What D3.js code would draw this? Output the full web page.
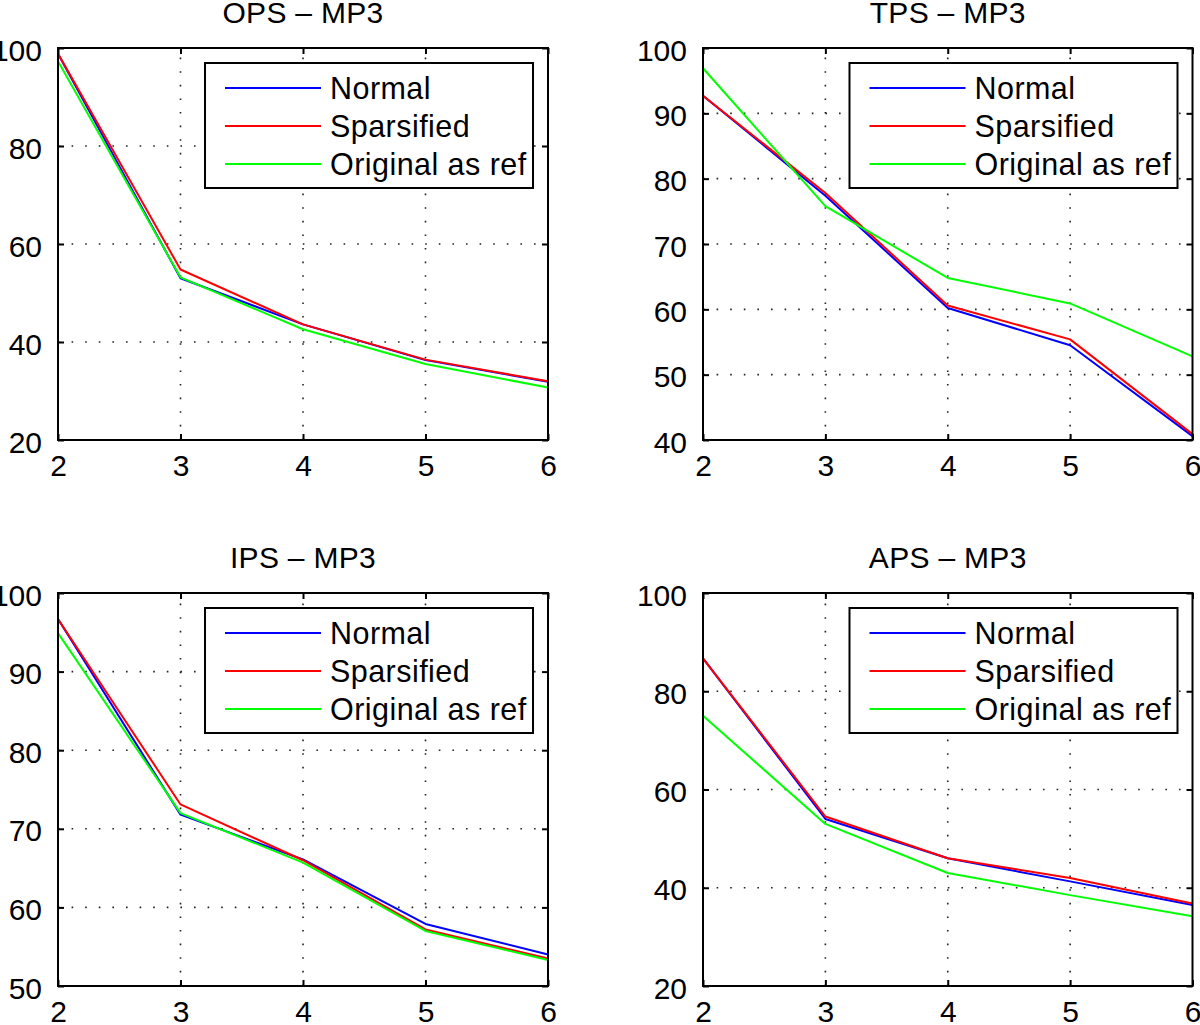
<!DOCTYPE html>
<html>
<head>
<meta charset="utf-8">
<script src="https://cdn.jsdelivr.net/npm/d3@7"></script>
<style>
  html, body { margin: 0; padding: 0; background: #fff; }
  svg { display: block; }
  text { font-family: "Liberation Sans", Arial, Helvetica, sans-serif; fill: #000; }
</style>
</head>
<body>
<div id="chart"></div>
<script>
// ---------- data ----------
const xValues = [2, 3, 4, 5, 6];
const xTickLabels = [2, 3, 4, 5, 6];
const seriesNames = ["Normal", "Sparsified", "Original as ref"];

const panelTitles = ["OPS \u2013 MP3", "TPS \u2013 MP3", "IPS \u2013 MP3", "APS \u2013 MP3"];

const opsNormal      = [98.8, 53.0, 43.6, 36.3, 31.9];
const opsSparsified  = [98.9, 54.8, 43.6, 36.4, 32.0];
const opsOriginal    = [97.3, 53.2, 42.6, 35.5, 30.7];

const tpsNormal      = [92.7, 77.4, 60.2, 54.5, 40.6];
const tpsSparsified  = [92.7, 77.8, 60.6, 55.4, 40.9];
const tpsOriginal    = [96.9, 75.8, 64.8, 60.9, 52.8];

const ipsNormal      = [96.7, 71.8, 66.1, 57.9, 54.0];
const ipsSparsified  = [96.7, 73.1, 66.0, 57.2, 53.5];
const ipsOriginal    = [94.9, 72.0, 65.7, 57.0, 53.3];

const apsNormal      = [86.7, 54.0, 46.0, 41.3, 36.5];
const apsSparsified  = [86.7, 54.5, 46.0, 42.0, 36.8];
const apsOriginal    = [75.0, 53.0, 43.0, 38.5, 34.2];

const opsTicks = [20, 40, 60, 80, 100];
const tpsTicks = [40, 50, 60, 70, 80, 90, 100];
const ipsTicks = [50, 60, 70, 80, 90, 100];
const apsTicks = [20, 40, 60, 80, 100];

// ---------- styles ----------
const seriesColors = ["#0000ff", "#ff0000", "#00ff00"];
const FONT = 30;
const LEGEND_FONT = 30.5;

const W = 1200, H = 1025;
const svg = d3.select("#chart").append("svg").attr("width", W).attr("height", H);

const panels = [
  { title: panelTitles[0], ticks: opsTicks, series: [opsNormal, opsSparsified, opsOriginal], box: [58, 48, 548, 440] },
  { title: panelTitles[1], ticks: tpsTicks, series: [tpsNormal, tpsSparsified, tpsOriginal], box: [703, 48, 1192.5, 440] },
  { title: panelTitles[2], ticks: ipsTicks, series: [ipsNormal, ipsSparsified, ipsOriginal], box: [58, 593, 548, 986] },
  { title: panelTitles[3], ticks: apsTicks, series: [apsNormal, apsSparsified, apsOriginal], box: [703, 593, 1192.5, 986] }
];

panels.forEach(p => {
  const [x0, y0, x1, y1] = p.box;
  const x = d3.scaleLinear().domain([d3.min(xValues), d3.max(xValues)]).range([x0, x1]);
  const y = d3.scaleLinear().domain([d3.min(p.ticks), d3.max(p.ticks)]).range([y1, y0]);
  const g = svg.append("g");

  // grid
  const grid = g.append("g").attr("stroke", "#222").attr("stroke-width", 1.6).attr("stroke-dasharray", "1.6,12");
  xTickLabels.slice(1, -1).forEach(v => {
    grid.append("line").attr("x1", x(v)).attr("x2", x(v)).attr("y1", y1).attr("y2", y0);
  });
  p.ticks.slice(1, -1).forEach(v => {
    grid.append("line").attr("x1", x0).attr("x2", x1).attr("y1", y(v)).attr("y2", y(v));
  });

  // lines
  const line = d3.line().x((d, i) => x(xValues[i])).y(d => y(d));
  p.series.forEach((s, i) => {
    g.append("path").datum(s).attr("d", line).attr("fill", "none")
      .attr("stroke", seriesColors[i]).attr("stroke-width", 2).attr("stroke-linejoin", "round");
  });

  // axes with inward ticks on all four sides
  const tl = 6;
  const axB = d3.axisBottom(x).tickValues(xTickLabels).tickSizeInner(-tl).tickSizeOuter(0).tickPadding(14).tickFormat(d3.format("d"));
  const axT = d3.axisTop(x).tickValues(xTickLabels).tickSizeInner(-tl).tickSizeOuter(0).tickFormat("");
  const axL = d3.axisLeft(y).tickValues(p.ticks).tickSizeInner(-tl).tickSizeOuter(0).tickPadding(16).tickFormat(d3.format("d"));
  const axR = d3.axisRight(y).tickValues(p.ticks).tickSizeInner(-tl).tickSizeOuter(0).tickFormat("");

  const styleAxis = sel => {
    sel.select(".domain").remove();
    sel.selectAll(".tick line").attr("stroke", "#000").attr("stroke-width", 2);
    sel.selectAll(".tick text").attr("font-size", FONT).attr("fill", "#000")
      .style("font-family", '"Liberation Sans", Arial, Helvetica, sans-serif');
  };
  g.append("g").attr("transform", `translate(0,${y1})`).call(axB).call(styleAxis)
    .selectAll(".tick text").attr("dy", "0.72em");
  g.append("g").attr("transform", `translate(0,${y0})`).call(axT).call(styleAxis);
  g.append("g").attr("transform", `translate(${x0},0)`).call(axL).call(styleAxis)
    .selectAll(".tick text").attr("dy", "0.40em");
  g.append("g").attr("transform", `translate(${x1},0)`).call(axR).call(styleAxis);

  // box
  g.append("rect").attr("x", x0).attr("y", y0).attr("width", x1 - x0).attr("height", y1 - y0)
    .attr("fill", "none").attr("stroke", "#000").attr("stroke-width", 2);

  // title
  g.append("text").attr("x", (x0 + x1) / 2).attr("y", y0 - 25).attr("text-anchor", "middle")
    .attr("font-size", FONT).attr("letter-spacing", 0.3).text(p.title);

  // legend
  const lw = 328, lh = 125;
  const lx = x1 - 15 - lw, ly = y0 + 15;
  const lg = g.append("g");
  lg.append("rect").attr("x", lx).attr("y", ly).attr("width", lw).attr("height", lh)
    .attr("fill", "#fff").attr("stroke", "#000").attr("stroke-width", 2);
  seriesNames.forEach((name, i) => {
    const cy = ly + 25 + i * 38;
    lg.append("line").attr("x1", lx + 20).attr("x2", lx + 116).attr("y1", cy).attr("y2", cy)
      .attr("stroke", seriesColors[i]).attr("stroke-width", 2);
    lg.append("text").attr("x", lx + 125).attr("y", cy).attr("dy", "0.36em")
      .attr("font-size", LEGEND_FONT).attr("letter-spacing", 0.45).text(name);
  });
});
</script>
</body>
</html>
